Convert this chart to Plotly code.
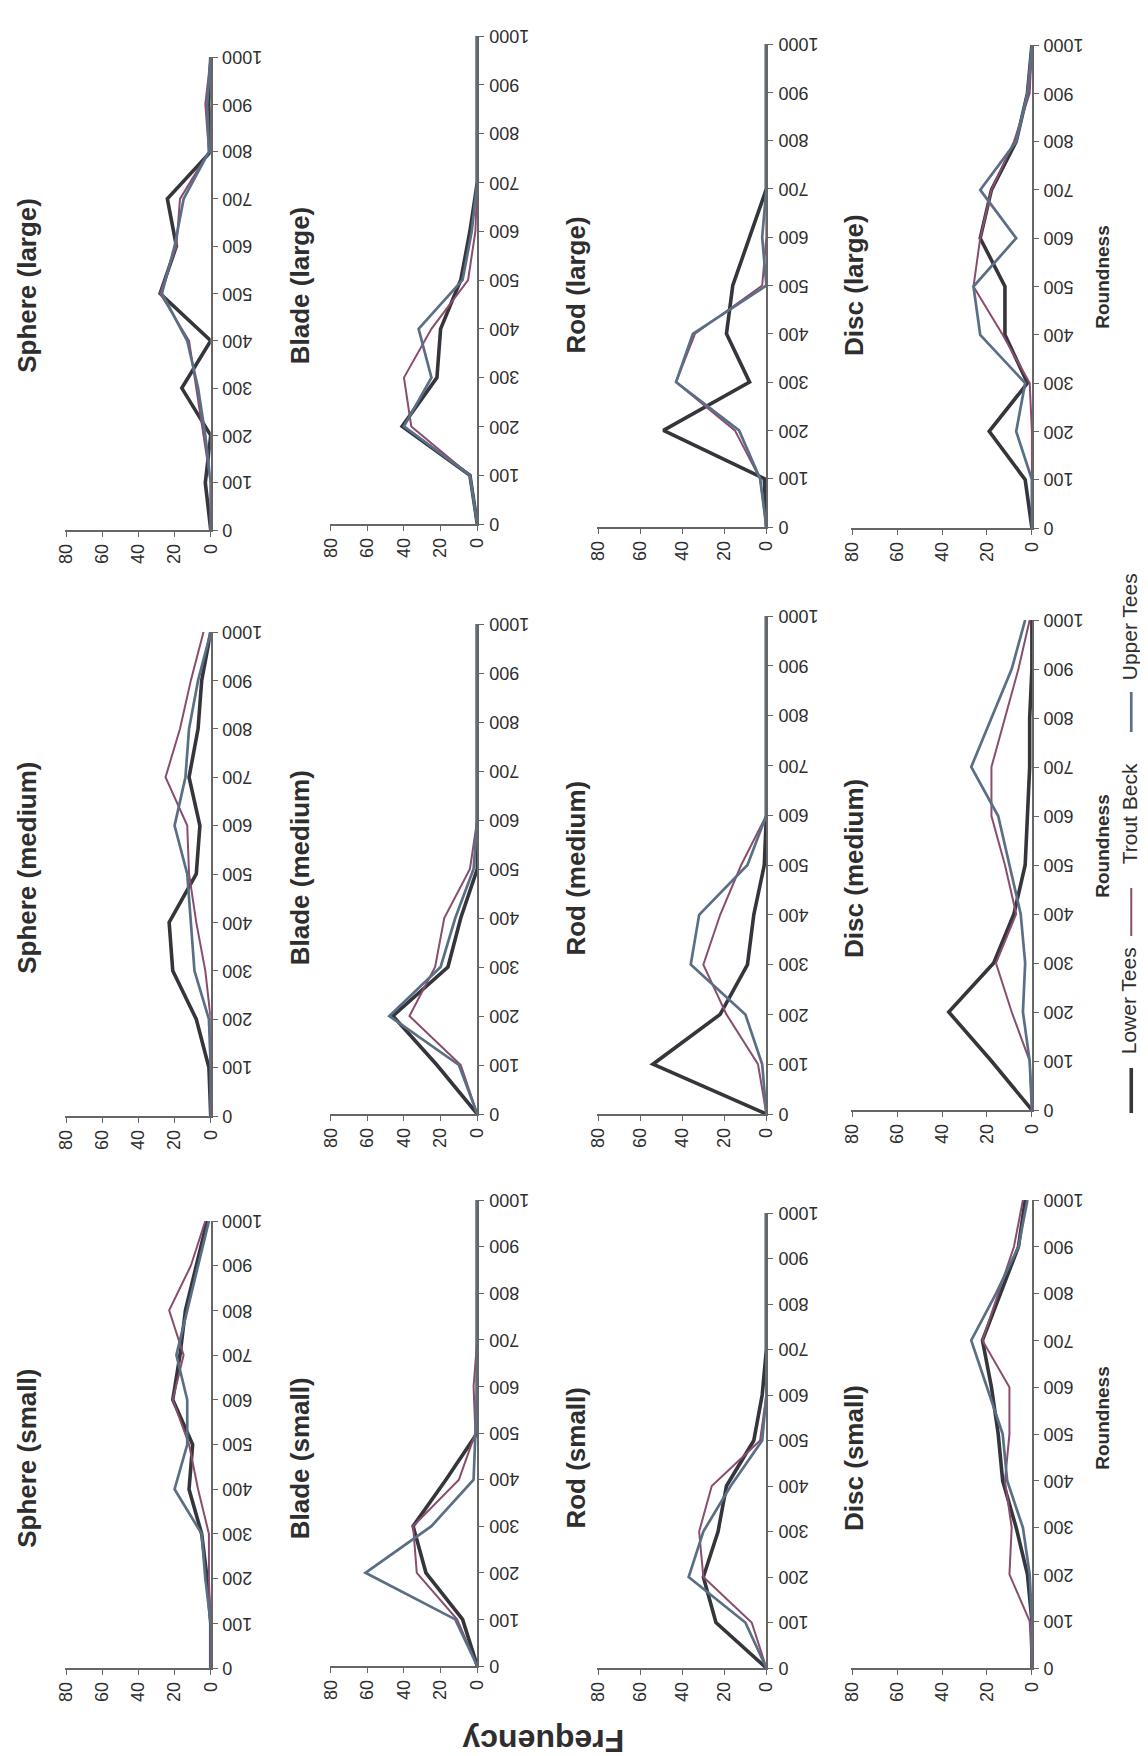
import plotly.graph_objects as go

# ---------------- data ----------------
roundness = [0, 100, 200, 300, 400, 500, 600, 700, 800, 900, 1000]
series_names = ["Lower Tees", "Trout Beck", "Upper Tees"]
shapes_list = ["Sphere", "Blade", "Rod", "Disc"]
sizes_list = ["large", "medium", "small"]
freq_ticks = [0, 20, 40, 60, 80]
round_ticks = [0, 100, 200, 300, 400, 500, 600, 700, 800, 900, 1000]

sphere_large_lower = [0, 3, 0, 16, 0, 28, 19, 24, 0, 1, 0]
sphere_large_trout = [0, 0, 4, 8, 12, 28, 19, 17, 1, 3, 0]
sphere_large_upper = [0, 0, 3, 7, 13, 27, 20, 15, 1, 2, 0]

blade_large_lower = [0, 4, 41, 22, 20, 9, 4, 0, 0, 0, 0]
blade_large_trout = [0, 4, 36, 40, 25, 5, 1, 0, 0, 0, 0]
blade_large_upper = [0, 4, 40, 25, 32, 8, 3, 0, 0, 0, 0]

rod_large_lower = [0, 1, 49, 8, 19, 16, 8, 0, 0, 0, 0]
rod_large_trout = [0, 3, 15, 43, 34, 2, 0, 0, 0, 0, 0]
rod_large_upper = [0, 3, 13, 43, 35, 0, 2, 0, 0, 0, 0]

disc_large_lower = [0, 3, 19, 2, 12, 12, 23, 18, 7, 2, 0]
disc_large_trout = [0, 0, 0, 1, 13, 26, 23, 18, 8, 1, 0]
disc_large_upper = [0, 0, 7, 3, 23, 26, 7, 23, 7, 2, 0]

sphere_medium_lower = [0, 1, 8, 21, 23, 8, 6, 12, 7, 5, 0]
sphere_medium_trout = [0, 0, 0, 3, 8, 12, 13, 25, 17, 11, 4]
sphere_medium_upper = [0, 0, 1, 9, 11, 13, 20, 14, 12, 7, 0]

blade_medium_lower = [0, 22, 46, 16, 9, 0, 0, 0, 0, 0, 0]
blade_medium_trout = [0, 9, 37, 23, 18, 4, 0, 0, 0, 0, 0]
blade_medium_upper = [0, 10, 48, 20, 12, 2, 0, 0, 0, 0, 0]

rod_medium_lower = [0, 54, 22, 9, 6, 1, 0, 0, 0, 0, 0]
rod_medium_trout = [0, 4, 19, 30, 22, 12, 0, 0, 0, 0, 0]
rod_medium_upper = [0, 2, 10, 36, 32, 9, 0, 0, 0, 0, 0]

disc_medium_lower = [0, 18, 37, 17, 8, 3, 2, 1, 1, 0, 0]
disc_medium_trout = [0, 1, 9, 16, 7, 12, 18, 18, 12, 6, 1]
disc_medium_upper = [0, 1, 4, 3, 5, 10, 15, 27, 18, 9, 3]

sphere_small_lower = [0, 0, 2, 5, 12, 10, 21, 17, 14, 8, 2]
sphere_small_trout = [0, 0, 1, 1, 7, 12, 21, 15, 23, 11, 3]
sphere_small_upper = [0, 0, 3, 5, 20, 13, 13, 19, 13, 7, 1]

blade_small_lower = [0, 8, 28, 35, 17, 0, 0, 0, 0, 0, 0]
blade_small_trout = [0, 11, 33, 35, 10, 1, 2, 0, 0, 0, 0]
blade_small_upper = [0, 12, 61, 25, 2, 1, 0, 0, 0, 0, 0]

rod_small_lower = [0, 24, 30, 23, 19, 6, 2, 0, 0, 0, 0]
rod_small_trout = [0, 7, 30, 32, 26, 3, 0, 0, 0, 0, 0]
rod_small_upper = [0, 10, 37, 30, 17, 2, 0, 0, 0, 0, 0]

disc_small_lower = [0, 0, 2, 7, 13, 15, 18, 22, 14, 6, 3]
disc_small_trout = [0, 1, 10, 9, 12, 10, 10, 22, 15, 8, 4]
disc_small_upper = [0, 0, 1, 4, 11, 13, 20, 27, 16, 6, 2]

panel_data = {
    ("Sphere", "large"): [sphere_large_lower, sphere_large_trout, sphere_large_upper],
    ("Blade", "large"): [blade_large_lower, blade_large_trout, blade_large_upper],
    ("Rod", "large"): [rod_large_lower, rod_large_trout, rod_large_upper],
    ("Disc", "large"): [disc_large_lower, disc_large_trout, disc_large_upper],
    ("Sphere", "medium"): [sphere_medium_lower, sphere_medium_trout, sphere_medium_upper],
    ("Blade", "medium"): [blade_medium_lower, blade_medium_trout, blade_medium_upper],
    ("Rod", "medium"): [rod_medium_lower, rod_medium_trout, rod_medium_upper],
    ("Disc", "medium"): [disc_medium_lower, disc_medium_trout, disc_medium_upper],
    ("Sphere", "small"): [sphere_small_lower, sphere_small_trout, sphere_small_upper],
    ("Blade", "small"): [blade_small_lower, blade_small_trout, blade_small_upper],
    ("Rod", "small"): [rod_small_lower, rod_small_trout, rod_small_upper],
    ("Disc", "small"): [disc_small_lower, disc_small_trout, disc_small_upper],
}

# ---------------- style / layout ----------------
W, H = 1148, 1756
FONT = "Liberation Sans, Arial, sans-serif"
colors = ["#34363c", "#8a4d6e", "#5a6f86"]
widths = [3.6, 2.0, 2.7]
text_col = "#2e2e2e"
axis_col = "#666666"

# pixel positions (frequency 80 -> 0 horizontally)
col_px = {"Sphere": (49, 197), "Blade": (318, 468), "Rod": (590, 762), "Disc": (848, 1032)}
# roundness 0 (bottom) and 1000 (top) pixel rows per panel
bottom_px = {
    ("Sphere", "large"): 522, ("Blade", "large"): 516, ("Rod", "large"): 519, ("Disc", "large"): 520,
    ("Sphere", "medium"): 1108, ("Blade", "medium"): 1106, ("Rod", "medium"): 1106, ("Disc", "medium"): 1102,
    ("Sphere", "small"): 1660, ("Blade", "small"): 1658, ("Rod", "small"): 1660, ("Disc", "small"): 1660,
}
top_px = {
    ("Sphere", "large"): 49, ("Blade", "large"): 28, ("Rod", "large"): 36, ("Disc", "large"): 37,
    ("Sphere", "medium"): 624, ("Blade", "medium"): 616, ("Rod", "medium"): 608, ("Disc", "medium"): 612,
    ("Sphere", "small"): 1213, ("Blade", "small"): 1192, ("Rod", "small"): 1205, ("Disc", "small"): 1192,
}
title_x = {"Sphere": 10, "Blade": 288, "Rod": 568, "Disc": 851}
title_y = {"large": 277, "medium": 860, "small": 1450}
round_lbl_y = {"large": 269, "medium": 838, "small": 1410}


def px(x):
    return x / W


def py(y):
    return 1 - y / H


fig = go.Figure()
layout_axes = {}
annotations = []
n = 0
for size in sizes_list:
    for shape in shapes_list:
        n += 1
        xa = "x" if n == 1 else f"x{n}"
        ya = "y" if n == 1 else f"y{n}"
        for i, name in enumerate(series_names):
            fig.add_trace(go.Scatter(
                x=panel_data[(shape, size)][i], y=roundness,
                mode="lines", name=name, showlegend=False,
                line=dict(color=colors[i], width=widths[i]),
                xaxis=xa, yaxis=ya,
            ))
        x0, x1 = col_px[shape]
        y0, y1 = bottom_px[(shape, size)], top_px[(shape, size)]
        layout_axes["xaxis" if n == 1 else f"xaxis{n}"] = dict(
            domain=[px(x0), px(x1)], range=[80.5, 0], anchor=ya,
            tickvals=freq_ticks, ticks="outside", ticklen=5, tickcolor=axis_col,
            tickangle=-90, showline=True, linecolor=axis_col, linewidth=1.6,
            showgrid=False, zeroline=False, side="bottom", layer="above traces",
            tickfont=dict(family=FONT, size=18, color=text_col),
        )
        layout_axes["yaxis" if n == 1 else f"yaxis{n}"] = dict(
            domain=[py(y0), py(y1)], range=[0, 1000], anchor=xa,
            tickvals=round_ticks, ticks="outside", ticklen=5, tickcolor=axis_col,
            showticklabels=False, showline=True, linecolor=axis_col, linewidth=1.6,
            showgrid=False, zeroline=False, side="right", layer="above traces",
        )
        # roundness tick labels (upside-down, as in the rotated original)
        for t in round_ticks:
            annotations.append(dict(
                text=str(t), xref="paper", yref=ya, x=px(x1 + 10), y=t,
                xanchor="left", yanchor="middle", textangle=180, showarrow=False,
                font=dict(family=FONT, size=18, color=text_col),
            ))
        annotations.append(dict(
            text=f"<b>{shape} ({size})</b>", xref="paper", yref="paper",
            x=px(title_x[shape]), y=py(title_y[size]), textangle=-90,
            showarrow=False, xanchor="center", yanchor="middle",
            font=dict(family=FONT, size=26, color=text_col),
        ))

for size in sizes_list:
    annotations.append(dict(
        text="<b>Roundness</b>", xref="paper", yref="paper",
        x=px(1103), y=py(round_lbl_y[size]), textangle=-90, showarrow=False,
        xanchor="center", yanchor="middle",
        font=dict(family=FONT, size=19, color=text_col),
    ))

annotations.append(dict(
    text="<b>Frequency</b>", xref="paper", yref="paper",
    x=px(535), y=py(1733), textangle=180, showarrow=False,
    xanchor="center", yanchor="middle",
    font=dict(family=FONT, size=32, color=text_col),
))

# legend (rotated, drawn as text + line samples)
legend_text_y = {"Lower Tees": 993, "Trout Beck": 806, "Upper Tees": 619}
legend_line_y = {"Lower Tees": (1060, 1105), "Trout Beck": (880, 928), "Upper Tees": (684, 724)}
shapes = []
for i, name in enumerate(series_names):
    annotations.append(dict(
        text=name, xref="paper", yref="paper",
        x=px(1131), y=py(legend_text_y[name]), textangle=-90, showarrow=False,
        xanchor="center", yanchor="middle",
        font=dict(family=FONT, size=21, color=text_col),
    ))
    a, b = legend_line_y[name]
    shapes.append(dict(
        type="line", xref="paper", yref="paper",
        x0=px(1133), x1=px(1133), y0=py(a), y1=py(b),
        line=dict(color=colors[i], width=widths[i]),
    ))

fig.update_layout(
    width=W, height=H, autosize=False,
    margin=dict(l=0, r=0, t=0, b=0),
    paper_bgcolor="white", plot_bgcolor="white",
    showlegend=False, annotations=annotations, shapes=shapes,
    **layout_axes,
)

fig.write_html("out.html")
